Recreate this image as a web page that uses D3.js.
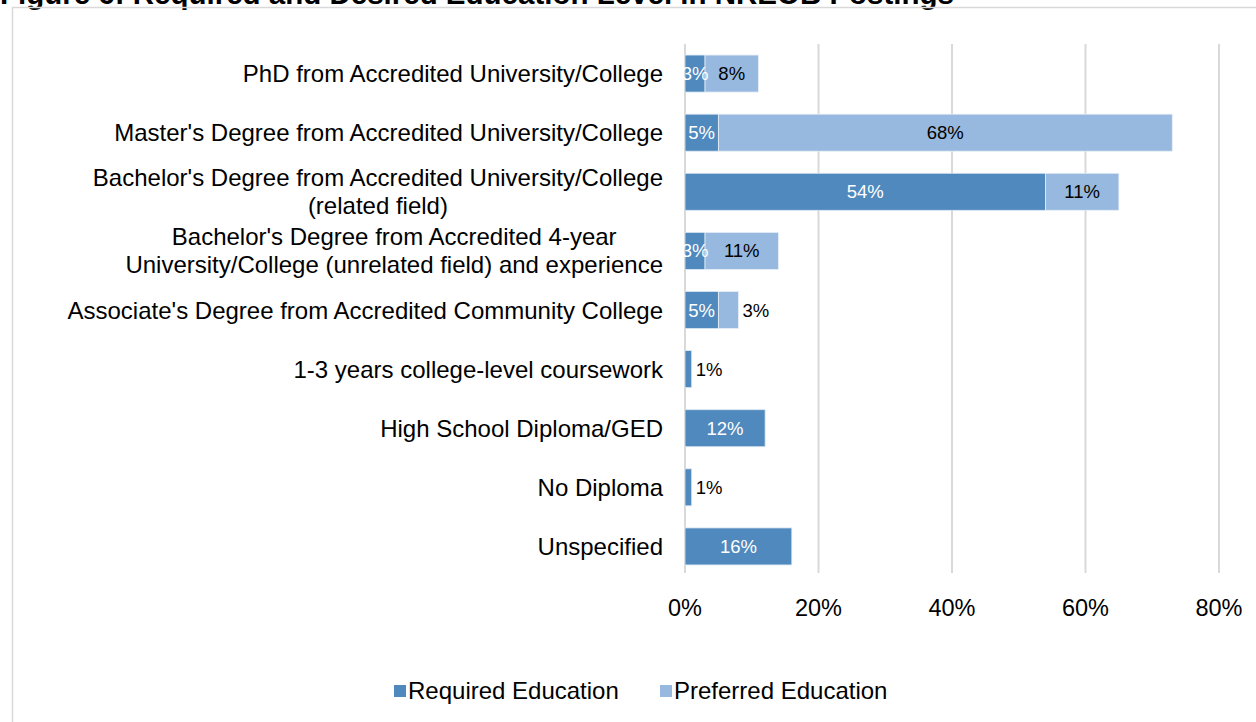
<!DOCTYPE html>
<html>
<head>
<meta charset="utf-8">
<script src="https://cdn.jsdelivr.net/npm/d3@7"></script>
<style>
  html, body { margin: 0; padding: 0; background: #fff; }
  svg { display: block; font-family: "Liberation Sans", Arial, sans-serif; }
</style>
</head>
<body>
<svg id="chart" width="1256" height="722"></svg>
<script>
// Education levels (each entry may wrap to two lines)
const categories = [
  ["PhD from Accredited University/College"],
  ["Master's Degree from Accredited University/College"],
  ["Bachelor's Degree from Accredited University/College", "(related field)"],
  ["Bachelor's Degree from Accredited 4-year", "University/College (unrelated field) and experience"],
  ["Associate's Degree from Accredited Community College"],
  ["1-3 years college-level coursework"],
  ["High School Diploma/GED"],
  ["No Diploma"],
  ["Unspecified"]
];
const requiredValues  = [3, 5, 54, 3, 5, 1, 12, 1, 16];
const preferredValues = [8, 68, 11, 11, 3, 0, 0, 0, 0];
const seriesNames = ["Required Education", "Preferred Education"];
const xTicks = [0, 20, 40, 60, 80];

const colors = { req: "#4f89bd", pref: "#97b9df", grid: "#d9d9d9" };

const svg = d3.select("#chart");

// Title (runs off the top edge) and chart frame
svg.append("text")
  .attr("x", 0).attr("y", 4)
  .attr("font-size", 29.5).attr("font-weight", "bold")
  .attr("fill", "#000")
  .text("Figure 6: Required and Desired Education Level in NREOB Postings");

svg.append("rect")
  .attr("x", 12.5).attr("y", 7.5)
  .attr("width", 1260).attr("height", 730)
  .attr("fill", "none").attr("stroke", colors.grid).attr("stroke-width", 1.5);

const x = d3.scaleLinear().domain([0, 80]).range([685, 1219]);
const y = d3.scaleBand()
  .domain(d3.range(categories.length))
  .range([44, 576])
  .paddingInner(0.374)
  .paddingOuter(0.187);

// Vertical gridlines
svg.append("g").selectAll("line")
  .data(xTicks).join("line")
  .attr("x1", d => x(d)).attr("x2", d => x(d))
  .attr("y1", 44).attr("y2", 573)
  .attr("stroke", colors.grid).attr("stroke-width", 2);

// Tick labels
svg.append("g").selectAll("text")
  .data(xTicks).join("text")
  .attr("x", d => x(d)).attr("y", 616)
  .attr("text-anchor", "middle")
  .attr("font-size", 23.5).attr("fill", "#000")
  .text(d => d + "%");

// Category labels: block right-aligned at the axis, lines centred within it
const labelG = svg.append("g");
categories.forEach((lines, i) => {
  const cy = y(i) + y.bandwidth() / 2;
  const lh = 28;
  const t = labelG.append("text")
    .attr("font-size", 24).attr("fill", "#000");
  lines.forEach((ln, j) => {
    t.append("tspan")
      .attr("y", cy + 8.5 + (j - (lines.length - 1) / 2) * lh)
      .text(ln);
  });
  const tspans = t.selectAll("tspan").nodes();
  const maxW = d3.max(tspans, n => n.getComputedTextLength());
  const right = 663;
  tspans.forEach(n => {
    d3.select(n).attr("x", right - maxW / 2).attr("text-anchor", "middle");
  });
});

// Stacked bars
const rows = categories.map((c, i) => ({ i, req: requiredValues[i], pref: preferredValues[i] }));
const barG = svg.append("g");
barG.selectAll("rect.req")
  .data(rows).join("rect").attr("class", "req")
  .attr("x", x(0)).attr("y", d => y(d.i))
  .attr("width", d => x(d.req) - x(0))
  .attr("height", y.bandwidth())
  .attr("fill", colors.req)
  .attr("stroke", "#dbe6f2").attr("stroke-width", 0.8);
barG.selectAll("rect.pref")
  .data(rows.filter(d => d.pref > 0)).join("rect").attr("class", "pref")
  .attr("x", d => x(d.req)).attr("y", d => y(d.i))
  .attr("width", d => x(d.req + d.pref) - x(d.req))
  .attr("height", y.bandwidth())
  .attr("fill", colors.pref)
  .attr("stroke", "#e6eef7").attr("stroke-width", 0.8);

// Value labels
const valG = svg.append("g").attr("font-size", 18.5);
rows.forEach(d => {
  const cy = y(d.i) + y.bandwidth() / 2 + 6.5;
  if (d.req > 0) {
    const outside = d.req < 2;
    valG.append("text")
      .attr("x", outside ? x(d.req) + 4 : (x(0) + x(d.req)) / 2)
      .attr("y", cy)
      .attr("text-anchor", outside ? "start" : "middle")
      .attr("fill", outside ? "#000" : "#fff")
      .text(d.req + "%");
  }
  if (d.pref > 0) {
    const w = x(d.req + d.pref) - x(d.req);
    const outside = w < 26;
    valG.append("text")
      .attr("x", outside ? x(d.req + d.pref) + 4 : (x(d.req) + x(d.req + d.pref)) / 2)
      .attr("y", cy)
      .attr("text-anchor", outside ? "start" : "middle")
      .attr("fill", "#000")
      .text(d.pref + "%");
  }
});

// Legend
const legend = svg.append("g");
const legendItems = [
  { name: seriesNames[0], color: colors.req, x: 394 },
  { name: seriesNames[1], color: colors.pref, x: 660 }
];
legendItems.forEach(it => {
  legend.append("rect")
    .attr("x", it.x).attr("y", 685)
    .attr("width", 12).attr("height", 12)
    .attr("fill", it.color);
  legend.append("text")
    .attr("x", it.x + 14).attr("y", 699)
    .attr("font-size", 24).attr("fill", "#000")
    .text(it.name);
});
</script>
</body>
</html>
